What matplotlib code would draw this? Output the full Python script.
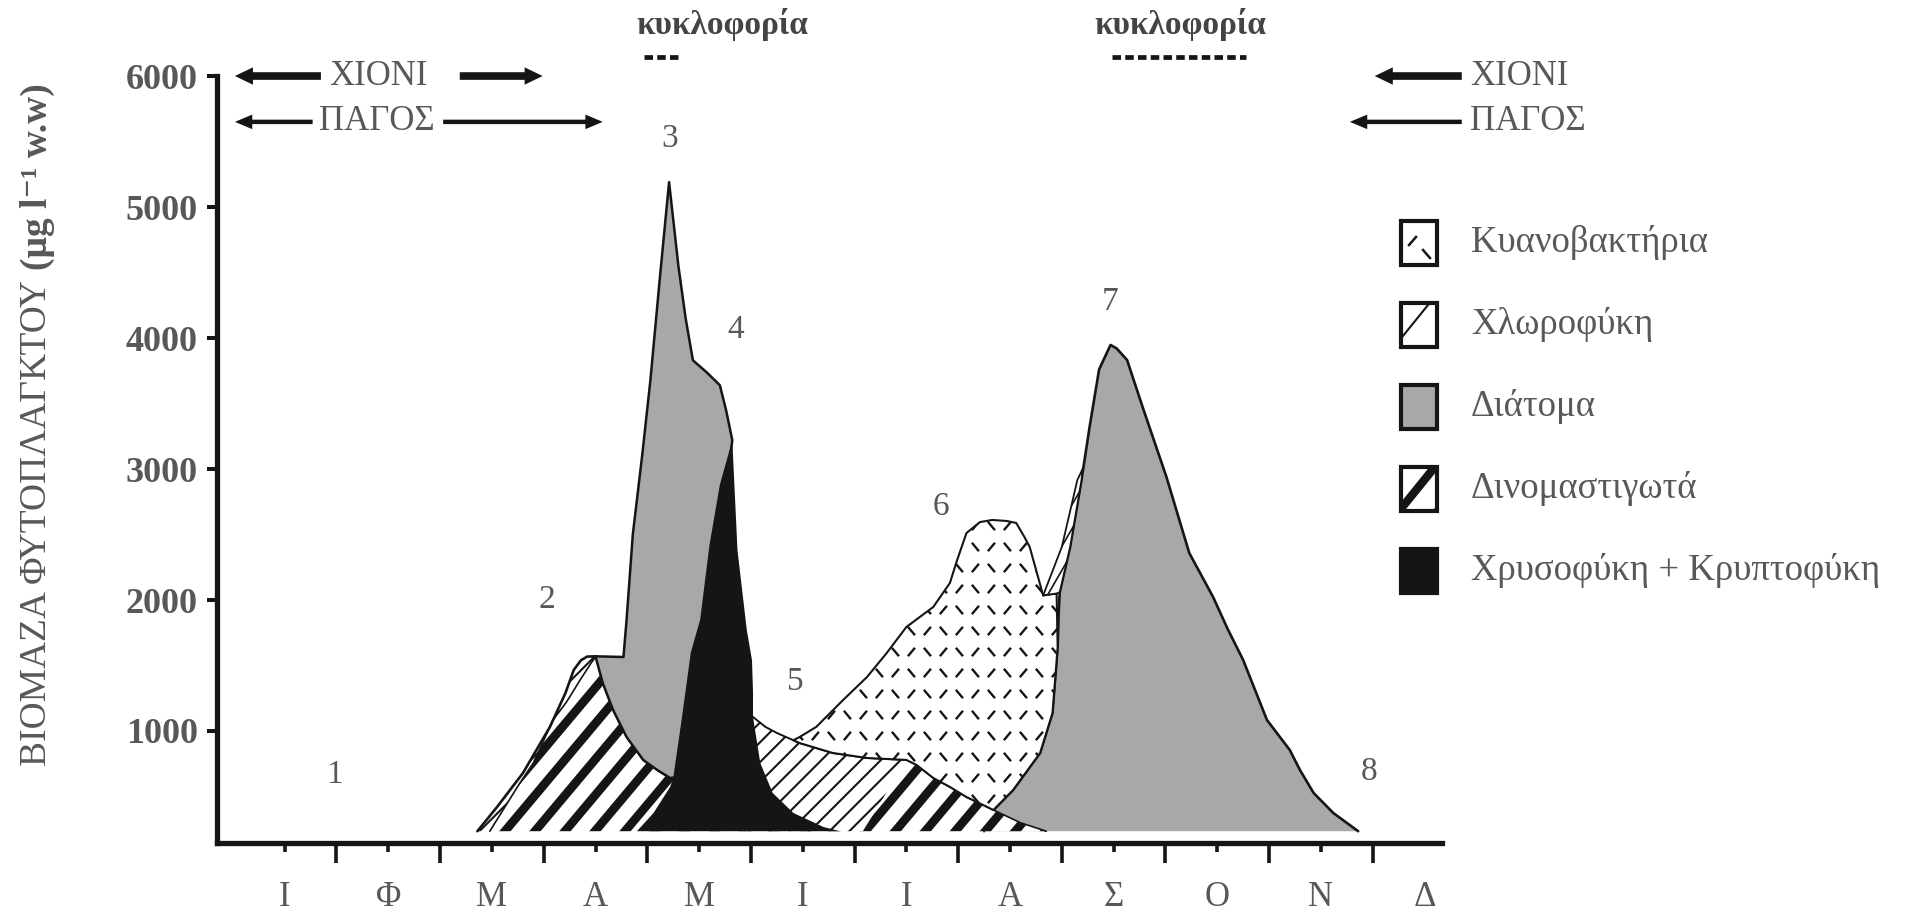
import numpy as np
import matplotlib
matplotlib.use("Agg")
import matplotlib.pyplot as plt
from matplotlib.patches import Polygon, Rectangle
from matplotlib.collections import LineCollection
from matplotlib.transforms import IdentityTransform

plt.rcParams['font.family'] = ['Liberation Serif', 'DejaVu Serif']

GRAY = '#585858'
INK = '#151515'
DIATOM = '#a8a8a8'
BASE = 235  # biomass where the drawn areas start

# x = month (0 = start of January), y = biomass (ug/l w.w)
months = ['Ι', 'Φ', 'Μ', 'Α', 'Μ', 'Ι', 'Ι', 'Α', 'Σ', 'Ο', 'Ν', 'Δ']

# Χλωροφύκη, thin edge on the left of peak 2
chl_a_m = [2.36, 2.55, 2.80, 3.06, 3.21, 3.29, 3.36, 3.42, 3.50, 3.36, 3.22, 3.09, 2.90, 2.77, 2.48]
chl_a_v = [BASE, 420, 679, 1031, 1290, 1466, 1540, 1568, 1570, 1400, 1221, 1084, 756, 603, BASE]

# Δινομαστιγωτά
dino_m = [2.48, 2.77, 2.90, 3.09, 3.22, 3.36, 3.50, 3.57, 3.67, 3.80, 3.96, 4.10, 4.22,
          4.60, 5.20, 6.50, 6.60, 6.76, 6.92, 7.08, 7.34, 7.60, 7.85]
dino_v = [BASE, 603, 756, 1084, 1221, 1400, 1570, 1366, 1160, 954, 779, 700, 641,
          600, 600, 779, 740, 641, 573, 496, 397, 300, BASE]

# Χλωροφύκη, summer part
chl_b_m = [5.02, 5.14, 5.25, 5.47, 5.79, 6.12, 6.50, 6.08, 4.90, 4.90]
chl_b_v = [1107, 1031, 985, 908, 832, 794, 779, BASE, BASE, 1107]

# Διάτομα, spring peak
dia_a_m = [3.50, 3.77, 3.80, 3.86, 3.95, 4.03, 4.12, 4.21, 4.30, 4.37, 4.44, 4.57, 4.70, 4.76, 4.82,
           4.55, 4.30, 4.22, 4.10, 3.96, 3.80, 3.67, 3.57]
dia_a_v = [1570, 1565, 1850, 2500, 3100, 3680, 4450, 5190, 4550, 4150, 3830, 3740, 3640, 3450, 3220,
           1500, 650, 641, 700, 779, 954, 1160, 1366]

# Χρυσοφύκη + Κρυπτοφύκη
chr_m = [4.82, 4.87, 4.96, 5.01, 5.02, 5.02, 5.09, 5.21, 5.41, 5.70, 5.86,
         3.90, 4.06, 4.22, 4.25, 4.33, 4.42, 4.51, 4.60, 4.70]
chr_v = [3220, 2382, 1771, 1542, 1300, 1107, 756, 527, 374, 267, BASE,
         BASE, 374, 573, 641, 1080, 1600, 1850, 2420, 2880]

# Κυανοβακτήρια
cya_m = [5.41, 5.47, 5.63, 5.89, 6.12, 6.31, 6.50, 6.76, 6.92, 6.99, 7.08, 7.21, 7.33, 7.47, 7.56,
         7.64, 7.69, 7.82, 7.95, 7.96, 7.91, 7.79, 7.53, 7.34, 7.08, 6.92, 6.76, 6.60, 6.50,
         6.12, 5.79, 5.47]
cya_v = [930, 954, 1031, 1237, 1412, 1595, 1794, 1947, 2130, 2305, 2511, 2595, 2611, 2603, 2588,
         2480, 2405, 2035, 2050, 1641, 1137, 832, 550, 397, 496, 573, 641, 740, 779,
         794, 832, 908]

# Διάτομα, autumn peak
dia_b_m = [7.25, 7.34, 7.53, 7.79, 7.91, 7.96, 7.97, 7.98, 8.08, 8.19, 8.27, 8.36, 8.47, 8.53, 8.63,
           8.78, 9.01, 9.23, 9.46, 9.60, 9.75, 9.98, 10.20, 10.30, 10.43, 10.62, 10.86]
dia_b_v = [BASE, 397, 550, 832, 1137, 1641, 1900, 2060, 2405, 2916, 3330, 3760, 3947, 3920, 3832,
           3473, 2939, 2359, 2023, 1780, 1542, 1084, 855, 700, 527, 374, BASE]

# Χλωροφύκη, thin edge on the left of peak 7
chl_c_m = [7.82, 8.00, 8.15, 8.20, 8.19, 8.08, 7.98, 7.95]
chl_c_v = [2035, 2405, 2916, 3000, 2916, 2405, 2060, 2050]

peak_m = [0.98, 3.03, 4.22, 4.85, 5.43, 6.83, 8.47, 10.97]
peak_v = [664, 2000, 5520, 4061, 1374, 2715, 4280, 687]

mix_text_m = [4.72, 9.14]
mix_bar_m = [(3.97, 4.30), (8.48, 9.78)]

legend_labels = ['Κυανοβακτήρια', 'Χλωροφύκη', 'Διάτομα', 'Δινομαστιγωτά',
                 'Χρυσοφύκη + Κρυπτοφύκη']

fig = plt.figure(figsize=(19.21, 9.16), dpi=100)
ax = fig.add_axes([0.1130, 0.0797, 0.6377, 0.8373])
ax.set_xlim(-0.152, 11.67)
ax.set_ylim(145, 6000)


def outline(m, v, lw, z, closed=True):
    xs = list(m) + ([m[0]] if closed else [])
    ys = list(v) + ([v[0]] if closed else [])
    runs, cur = [], [(xs[0], ys[0])]
    for i in range(1, len(xs)):
        if ys[i - 1] == BASE and ys[i] == BASE:
            if len(cur) > 1:
                runs.append(cur)
            cur = [(xs[i], ys[i])]
        else:
            cur.append((xs[i], ys[i]))
    if len(cur) > 1:
        runs.append(cur)
    for r in runs:
        rx, ry = zip(*r)
        ax.plot(rx, ry, color=INK, lw=lw, zorder=z, solid_capstyle='round', solid_joinstyle='round')


def region(m, v, z, face='white', lw=1.5, edge=None):
    poly = Polygon(np.column_stack([m, v]), closed=True, facecolor=face, edgecolor='none', zorder=z)
    ax.add_patch(poly)
    if edge is None:
        outline(m, v, lw, z + 0.2)
    elif edge > 0:
        outline(m[:edge], v[:edge], lw, z + 0.2, closed=False)
    return poly


def stripes(clip, angle, period, lw, z):
    host = clip.axes
    pts = clip.get_transform().transform(clip.get_path().vertices)
    (x0, y0), (x1, y1) = pts.min(0), pts.max(0)
    a = np.deg2rad(angle)
    d = np.array([np.cos(a), np.sin(a)])
    n = np.array([-np.sin(a), np.cos(a)])
    c = np.array([(x0 + x1) / 2, (y0 + y1) / 2])
    L = np.hypot(x1 - x0, y1 - y0) / 2 + period
    segs = [[c + n * k - d * L, c + n * k + d * L] for k in np.arange(-L, L + period, period)]
    lc = LineCollection(segs, colors=INK, linewidths=lw, transform=IdentityTransform(), zorder=z)
    host.add_collection(lc, autolim=False)
    lc.set_clip_path(clip)


def ticks_pattern(clip, dx, dy, length, lw, z):
    host = clip.axes
    pts = clip.get_transform().transform(clip.get_path().vertices)
    (x0, y0), (x1, y1) = pts.min(0) - 10, pts.max(0) + 10
    segs = []
    for j, yy in enumerate(np.arange(y0, y1, dy)):
        for i, xx in enumerate(np.arange(x0, x1, dx)):
            a = np.deg2rad(50 if (i + j) % 2 == 0 else -50)
            h = 0.5 * length * np.array([np.cos(a), np.sin(a)])
            segs.append([(xx - h[0], yy - h[1]), (xx + h[0], yy + h[1])])
    lc = LineCollection(segs, colors=INK, linewidths=lw, transform=IdentityTransform(), zorder=z)
    host.add_collection(lc, autolim=False)
    lc.set_clip_path(clip)


# areas, back to front
p = region(dia_b_m, dia_b_v, 1, DIATOM, lw=1.9)
p = region(dino_m, dino_v, 2, lw=1.2)
stripes(p, 50, 23, 6.3, 2.1)
p = region(chl_a_m, chl_a_v, 2, lw=1.9, edge=9)
stripes(p, 45, 14, 1.5, 2.1)
p = region(chl_b_m, chl_b_v, 3, lw=1.4, edge=7)
stripes(p, 45, 14, 1.5, 3.1)
p = region(dia_a_m, dia_a_v, 4, DIATOM, lw=1.8)
p = region(chr_m, chr_v, 5, INK, edge=0)
p = region(cya_m, cya_v, 6, lw=1.5)
ticks_pattern(p, 16, 21, 11, 1.7, 6.1)
p = region(chl_c_m, chl_c_v, 7, lw=1.3)
stripes(p, 60, 12, 1.2, 7.1)

# axes
for side in ['top', 'right']:
    ax.spines[side].set_visible(False)
for side in ['left', 'bottom']:
    ax.spines[side].set_linewidth(3.8)
    ax.spines[side].set_color(INK)
    ax.spines[side].set_capstyle('projecting')

ax.set_yticks(np.arange(1000, 6001, 1000))
ax.tick_params(axis='y', length=7, width=2.9, color=INK, pad=7, labelsize=26, labelcolor=GRAY)
for t in ax.get_yticklabels():
    t.set_fontweight('bold')

ax.set_xticks(np.arange(12) + 0.5, months)
ax.set_xticks(np.arange(1, 12), minor=True)
ax.tick_params(axis='x', which='major', length=6.5, width=2.6, color=INK, pad=21,
               labelsize=25, labelcolor=GRAY)
ax.tick_params(axis='x', which='minor', length=14.5, width=2.6, color=INK)
ax.xaxis.get_major_ticks()[-1].tick1line.set_visible(False)

# y label: plain part then bold unit part
renderer = fig.canvas.get_renderer()
lab1 = fig.text(37 / 1921, 1 - 766 / 916, 'ΒΙΟΜΑΖΑ ΦΥΤΟΠΛΑΓΚΤΟΥ', rotation=90, rotation_mode='anchor',
                ha='left', va='center', fontsize=27, color=GRAY)
bb = lab1.get_window_extent(renderer)
fig.text(37 / 1921, (bb.y1 + 10) / 916, '(μg l⁻¹ w.w)', rotation=90, rotation_mode='anchor',
         ha='left', va='center', fontsize=27, fontweight='bold', color=GRAY)

# peak numbers
for k, (pm, pv) in enumerate(zip(peak_m, peak_v)):
    ax.text(pm, pv, str(k + 1), ha='center', va='center', fontsize=24, color=GRAY, zorder=10)

# circulation periods
for tm, (b0, b1) in zip(mix_text_m, mix_bar_m):
    ax.text(tm, 6390, 'κυκλοφορία', ha='center', va='center', fontsize=24, fontweight='bold',
            color='#444444', clip_on=False)
    ax.plot([b0, b1], [6148, 6148], color=INK, lw=3.4, ls=(0, (1.8, 0.9)), clip_on=False,
            solid_capstyle='butt')


def arrow(x_tail, x_head, y, big):
    tw, hw, hl = (0.55, 1.25, 1.3) if big else (0.32, 1.05, 1.25)
    ax.annotate('', xy=(x_head, y), xytext=(x_tail, y), annotation_clip=False,
                arrowprops=dict(arrowstyle=f'simple,head_length={hl},head_width={hw},tail_width={tw}',
                                fc=INK, ec='none', lw=0, shrinkA=0, shrinkB=0, mutation_scale=10))


arrow(0.85, 0.02, 6000, True)
arrow(2.19, 2.99, 6000, True)
arrow(0.77, 0.02, 5650, False)
arrow(2.03, 3.57, 5650, False)
arrow(11.86, 11.02, 6000, True)
arrow(11.86, 10.78, 5650, False)
ax.text(1.41, 6000, 'ΧΙΟΝΙ', ha='center', va='center', fontsize=25, color=GRAY, clip_on=False)
ax.text(1.39, 5650, 'ΠΑΓΟΣ', ha='center', va='center', fontsize=25, color=GRAY, clip_on=False)
ax.text(11.94, 6000, 'ΧΙΟΝΙ', ha='left', va='center', fontsize=25, color=GRAY, clip_on=False)
ax.text(11.94, 5650, 'ΠΑΓΟΣ', ha='left', va='center', fontsize=25, color=GRAY, clip_on=False)

# legend, drawn in pixel units
lax = fig.add_axes([0, 0, 1, 1])
lax.set_xlim(0, 1921)
lax.set_ylim(916, 0)
lax.axis('off')
faces = ['white', 'white', DIATOM, 'white', INK]
for k, (lab, fc) in enumerate(zip(legend_labels, faces)):
    cy = 243 + 82 * k
    r = Rectangle((1401, cy - 22), 36, 44, facecolor=fc, edgecolor='none', zorder=2)
    lax.add_patch(r)
    lax.add_patch(Rectangle((1401, cy - 22), 36, 44, facecolor='none', edgecolor=INK, lw=3, zorder=4))
    if k == 0:
        lax.plot([1409, 1416], [cy + 2, cy - 6], color=INK, lw=1.8, zorder=3)
        lax.plot([1423, 1430], [cy + 7, cy + 15], color=INK, lw=1.8, zorder=3)
    elif k == 1:
        stripes(r, 51, 34, 1.5, 3)
    elif k == 3:
        stripes(r, 51, 30, 6.0, 3)
    lax.text(1471, cy, lab, ha='left', va='center', fontsize=26.5, color=GRAY)

fig.savefig('out.png', dpi=100)
